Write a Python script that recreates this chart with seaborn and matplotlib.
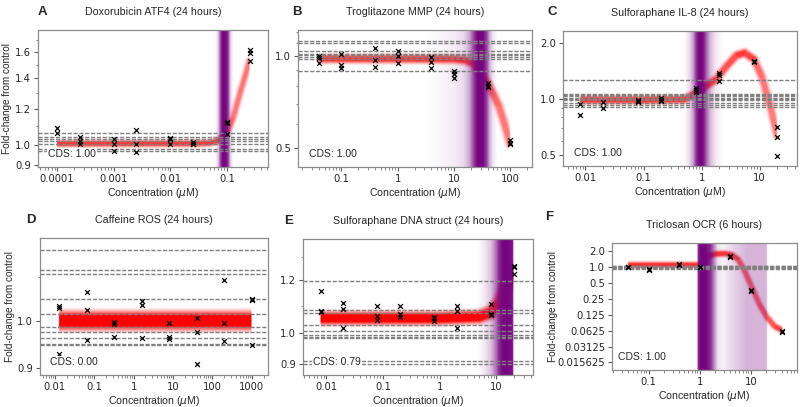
# Dose-response panels (A-F): replicates, fitted curve, control levels, POD density
import numpy as np
import pandas as pd
import matplotlib
matplotlib.use("Agg")
import matplotlib.pyplot as plt
import seaborn as sns
from matplotlib.ticker import LogLocator, NullFormatter

# --- A: Doxorubicin ATF4
a_conc = [0.0001, 0.00025, 0.001, 0.0025, 0.01, 0.025, 0.1, 0.25]
a_resp = [[1.089, 1.063, 0.944], [1.038, 1.019, 1.002], [1.026, 1.002, 0.968],
          [1.076, 1.005, 0.962], [1.035, 1.026, 1.002], [1.014, 1.005, 1.002],
          [1.123, 1.117, 1.054], [1.62, 1.594, 1.527]]
a_ctrl = [1.06, 1.04, 1.028, 1.017, 1.003, 0.976, 0.968]
a_fit_x = [0.0001, 0.001, 0.01, 0.03, 0.05, 0.07, 0.1, 0.13, 0.17, 0.21, 0.25]
a_fit_y = [1.005, 1.005, 1.005, 1.005, 1.008, 1.02, 1.06, 1.15, 1.3, 1.42, 1.53]
a_pod_x = [0.062, 0.07, 0.077, 0.083, 0.09, 0.1, 0.107, 0.115, 0.13]
a_pod_d = [0, 0.2, 0.75, 1, 1, 0.95, 0.7, 0.2, 0]
a_xticks = [0.0001, 0.001, 0.01, 0.1]
a_yticks = [0.9, 1.0, 1.2, 1.4, 1.6]
a_yminor = [1.1, 1.3, 1.5, 1.7]

# --- B: Troglitazone MMP
b_conc = [0.04, 0.1, 0.4, 1, 4, 10, 40, 100]
b_resp = [[1.0, 0.987, 0.951], [1.013, 0.937, 0.913], [1.06, 0.973, 0.923],
          [1.042, 1.0, 0.951], [0.99, 0.958, 0.913], [0.895, 0.873, 0.85],
          [0.817, 0.801, 0.793], [0.532, 0.521, 0.516]]
b_ctrl = [1.117, 1.10, 1.036, 1.02, 1.008, 0.995, 0.978, 0.895]
b_fit_x = [0.04, 1, 10, 16, 22, 28, 35, 41, 52, 64, 80, 100]
b_fit_y = [0.98, 0.98, 0.978, 0.97, 0.945, 0.895, 0.845, 0.81, 0.745, 0.685, 0.6, 0.52]
b_pod_x = [3, 6, 10, 15, 19, 22, 26, 33, 39, 43, 50, 60]
b_pod_d = [0, 0.04, 0.08, 0.15, 0.35, 0.7, 1, 1, 0.75, 0.35, 0.1, 0]
b_xticks = [0.1, 1, 10, 100]
b_yticks = [0.5, 1.0]
b_yminor = [0.6, 0.7, 0.8, 0.9, 1.1, 1.2]

# --- C: Sulforaphane IL-8
c_conc = [0.008, 0.02, 0.08, 0.2, 0.8, 2, 8, 20]
c_resp = [[0.944, 0.819], [0.964, 0.896], [0.99, 0.98, 0.97], [1.016, 0.992, 0.972],
          [1.153, 1.121, 1.089], [1.385, 1.347, 1.256], [1.598, 1.585], [0.71, 0.626, 0.498]]
c_ctrl = [1.267, 1.067, 1.05, 1.035, 1.02, 1.005, 0.99, 0.952, 0.93, 0.907]
c_fit_x = [0.008, 0.1, 0.5, 0.8, 1.2, 1.8, 2.7, 4, 5.5, 8, 11, 15, 20]
c_fit_y = [0.985, 0.985, 0.99, 1.07, 1.17, 1.27, 1.49, 1.7, 1.75, 1.62, 1.3, 0.93, 0.64]
c_pod_x = [0.5, 0.62, 0.72, 0.8, 0.9, 1.0, 1.1, 1.25, 1.45, 1.8, 2.4]
c_pod_d = [0, 0.15, 0.4, 0.8, 1, 1, 0.9, 0.55, 0.25, 0.08, 0]
c_xticks = [0.01, 0.1, 1, 10]
c_yticks = [0.5, 1.0, 2.0]
c_yminor = [0.6, 0.7, 0.8, 0.9]

# --- D: Caffeine ROS
d_conc = [0.0128, 0.064, 0.32, 1.6, 8, 40, 200, 1000]
d_resp = [[1.033, 1.028, 0.93], [1.065, 1.024, 0.959], [0.996, 0.992, 0.965],
          [1.045, 1.035, 0.963], [0.994, 0.964, 0.96], [1.005, 0.975, 0.908],
          [1.094, 0.994, 0.957], [1.048, 1.046, 0.948]]
d_ctrl = [1.169, 1.117, 1.109, 1.048, 1.015, 0.987, 0.975, 0.963, 0.95, 0.947]
d_fit_x = [0.0128, 1000]
d_fit_y = [1.0, 1.0]
d_pod_x = []
d_pod_d = []
d_xticks = [0.01, 0.1, 1, 10, 100, 1000]
d_yticks = [0.9, 1.0]
d_yminor = [1.1]

# --- E: Sulforaphane DNA struct
e_conc = [0.008, 0.02, 0.08, 0.2, 0.8, 2, 8, 20]
e_resp = [[1.155, 1.08, 1.077], [1.109, 1.086, 1.017], [1.099, 1.062, 1.047],
          [1.099, 1.069, 1.059], [1.056, 1.053, 1.044], [1.099, 1.08, 1.017],
          [1.106, 1.067, 1.064], [1.262, 1.256, 1.227]]
e_ctrl = [1.198, 1.084, 1.071, 1.027, 1.006, 0.994, 0.988, 0.982, 0.909, 0.899]
e_fit_x = [0.008, 1, 5, 8, 11, 14, 20]
e_fit_y = [1.053, 1.053, 1.058, 1.075, 1.11, 1.16, 1.237]
e_pod_x = [4.5, 6, 8, 10, 11, 13, 16, 19.5, 20]
e_pod_d = [0, 0.08, 0.25, 0.6, 0.85, 1, 1, 0.95, 0]
e_xticks = [0.01, 0.1, 1, 10]
e_yticks = [0.9, 1.0, 1.2]
e_yminor = [1.1, 1.3]

# --- F: Triclosan OCR
f_conc = [0.04, 0.1, 0.4, 1, 4, 10, 40]
f_resp = [[1.03, 1.0], [0.93, 0.9], [1.16, 1.12], [1.03, 1.0], [1.62, 1.56],
          [0.37, 0.36], [0.062, 0.06]]
f_ctrl = [0.94, 0.96, 0.98, 1.0, 1.02, 1.04, 1.07]
f_fit_x = [0.04, 0.5, 1.0, 1.2, 1.5, 2, 3, 4.2, 5.5, 7, 10, 14, 20, 28, 40]
f_fit_y = [1.07, 1.07, 1.07, 1.3, 1.6, 1.72, 1.75, 1.65, 1.35, 0.9, 0.42, 0.2, 0.11, 0.075, 0.062]
f_pod_x = [0.88, 0.9, 1.0, 1.3, 1.6, 1.9, 2.2, 2.8, 3.5, 5, 8, 19.5, 20.5]
f_pod_d = [0, 0.8, 1.0, 1.0, 0.85, 0.45, 0.12, 0.05, 0.12, 0.2, 0.3, 0.3, 0]
f_xticks = [0.1, 1, 10]
f_yticks = [2.0, 1.0, 0.5, 0.25, 0.125, 0.0625, 0.03125, 0.015625]
f_yminor = []

titles = ["Doxorubicin ATF4 (24 hours)", "Troglitazone MMP (24 hours)",
          "Sulforaphane IL-8 (24 hours)", "Caffeine ROS (24 hours)",
          "Sulforaphane DNA struct (24 hours)", "Triclosan OCR (6 hours)"]
letters = ["A", "B", "C", "D", "E", "F"]
cds = ["CDS: 1.00", "CDS: 1.00", "CDS: 1.00", "CDS: 0.00", "CDS: 0.79", "CDS: 1.00"]

sns.set_style("ticks")
plt.rcParams["font.family"] = ["Liberation Sans", "DejaVu Sans"]
plt.rcParams["mathtext.fontset"] = "dejavusans"

W, H = 800, 407
fig = plt.figure(figsize=(W / 100, H / 100), dpi=100)

RED = (1.0, 0.0, 0.0)
PURPLE = (0.46, 0.02, 0.5)


def px_rect(l, t, r, b):
    return [l / W, 1 - b / H, (r - l) / W, (b - t) / H]


def pixel_grid(ax, ss=2):
    bb = ax.get_window_extent()
    nx, ny = int(round(bb.width * ss)), int(round(bb.height * ss))
    xs = bb.x0 + (np.arange(nx) + 0.5) / ss
    ys = bb.y0 + (np.arange(ny) + 0.5) / ss
    return xs, ys


def put_image(ax, color, alpha, z):
    rgba = np.zeros(alpha.shape + (4,))
    rgba[..., :3] = color
    rgba[..., 3] = alpha
    ax.imshow(rgba, extent=(0, 1, 0, 1), transform=ax.transAxes, origin="lower",
              aspect="auto", interpolation="bilinear", zorder=z)


def fuzzy_curve(ax, fx, fy, core, halo, amax):
    # soft red band around the fitted curve (widths in pixels), paler where steep
    xs, ys = pixel_grid(ax)
    pts = ax.transData.transform(np.column_stack([fx, fy]))
    PX, PY = np.meshgrid(xs, ys)
    dist = np.full(PX.shape, np.inf)
    fac = np.ones(PX.shape)
    for (x0, y0), (x1, y1) in zip(pts[:-1], pts[1:]):
        dx, dy = x1 - x0, y1 - y0
        seg = np.hypot(dx, dy)
        t = np.clip(((PX - x0) * dx + (PY - y0) * dy) / (seg * seg), 0, 1)
        d = np.hypot(PX - (x0 + t * dx), PY - (y0 + t * dy))
        closer = d < dist
        dist = np.where(closer, d, dist)
        fac = np.where(closer, 0.55 + 0.45 * abs(dx) / seg, fac)
    a = np.clip((halo - dist) / (halo - core), 0, 1) ** 1.6 * amax * fac
    a[:, (xs < pts[0, 0]) | (xs > pts[-1, 0])] = 0
    put_image(ax, RED, a, 1)


def pod_band(ax, px, dens):
    if len(px) == 0:
        return
    xs, ys = pixel_grid(ax)
    inv = ax.transData.inverted()
    xd = inv.transform(np.column_stack([xs, np.full(len(xs), ys[0])]))[:, 0]
    a = np.interp(np.log10(xd), np.log10(px), dens, left=0, right=0)
    put_image(ax, PURPLE, np.tile(a, (4, 1)), 2)


panels = [
    dict(conc=a_conc, resp=a_resp, ctrl=a_ctrl, fx=a_fit_x, fy=a_fit_y, px=a_pod_x, pd=a_pod_d,
         xt=a_xticks, yt=a_yticks, ym=a_yminor, rect=px_rect(38, 30, 268, 167),
         xlim=(4.6e-5, 0.53), ylim=(0.892, 1.79), band=(1.5, 5.5, 0.8),
         ylab=-0.113, cx=0.045, lxy=(38, 15)),
    dict(conc=b_conc, resp=b_resp, ctrl=b_ctrl, fx=b_fit_x, fy=b_fit_y, px=b_pod_x, pd=b_pod_d,
         xt=b_xticks, yt=b_yticks, ym=b_yminor, rect=px_rect(298, 30, 532, 167),
         xlim=(0.0168, 247), ylim=(0.435, 1.217), band=(2, 7, 0.8),
         ylab=None, cx=0.045, lxy=(292, 15)),
    dict(conc=c_conc, resp=c_resp, ctrl=c_ctrl, fx=c_fit_x, fy=c_fit_y, px=c_pod_x, pd=c_pod_d,
         xt=c_xticks, yt=c_yticks, ym=c_yminor, rect=px_rect(563, 31, 797, 166),
         xlim=(0.0041, 44), ylim=(0.439, 2.316), band=(2, 6.5, 0.8),
         ylab=None, cx=0.045, lxy=(547, 15)),
    dict(conc=d_conc, resp=d_resp, ctrl=d_ctrl, fx=d_fit_x, fy=d_fit_y, px=d_pod_x, pd=d_pod_d,
         xt=d_xticks, yt=d_yticks, ym=d_yminor, rect=px_rect(40, 238, 268, 375),
         xlim=(0.0042, 2600), ylim=(0.887, 1.2), band=(5.5, 14, 1.0),
         ylab=-0.11, cx=0.045, lxy=(26, 223)),
    dict(conc=e_conc, resp=e_resp, ctrl=e_ctrl, fx=e_fit_x, fy=e_fit_y, px=e_pod_x, pd=e_pod_d,
         xt=e_xticks, yt=e_yticks, ym=e_yminor, rect=px_rect(303, 239, 533, 375),
         xlim=(0.0039, 44), ylim=(0.866, 1.383), band=(3.5, 10, 1.0),
         ylab=None, cx=0.045, lxy=(284, 224)),
    dict(conc=f_conc, resp=f_resp, ctrl=f_ctrl, fx=f_fit_x, fy=f_fit_y, px=f_pod_x, pd=f_pod_d,
         xt=f_xticks, yt=f_yticks, ym=f_yminor, rect=px_rect(612, 243, 797, 370),
         xlim=(0.0193, 80), ylim=(0.0112, 2.89), band=(1.5, 5, 0.8),
         ylab=-0.29, cx=0.03, lxy=(545, 220)),
]

for i, p in enumerate(panels):
    ax = fig.add_axes(p["rect"])
    ax.set_xscale("log")
    ax.set_yscale("log")
    ax.set_xlim(*p["xlim"])
    ax.set_ylim(*p["ylim"])

    fuzzy_curve(ax, p["fx"], p["fy"], *p["band"])
    pod_band(ax, p["px"], p["pd"])
    for v in p["ctrl"]:
        ax.axhline(v, color="0.5", lw=1.0, ls=(0, (3, 1.2)), zorder=3)

    df = pd.DataFrame({"conc": np.repeat(p["conc"], [len(r) for r in p["resp"]]),
                       "resp": np.concatenate(p["resp"])})
    sns.scatterplot(data=df, x="conc", y="resp", ax=ax, marker="x", color="black",
                    s=12, linewidth=0.9, zorder=4, legend=False)

    ax.set_xticks(p["xt"], labels=["%g" % v for v in p["xt"]], fontfamily="DejaVu Sans")
    ax.xaxis.set_minor_locator(LogLocator(base=10, subs=np.arange(2, 10), numticks=100))
    ax.xaxis.set_minor_formatter(NullFormatter())
    ax.set_yticks(p["yt"], labels=[str(v) for v in p["yt"]], fontfamily="DejaVu Sans")
    ax.set_yticks(p["ym"], minor=True)
    ax.yaxis.set_minor_formatter(NullFormatter())
    ax.set_xlim(*p["xlim"])
    ax.set_ylim(*p["ylim"])

    ax.tick_params(which="major", length=3, width=0.8, color="0.35", labelsize=7.2, pad=2)
    ax.tick_params(which="minor", length=1.8, width=0.6, color="0.45")
    for s in ax.spines.values():
        s.set_color("0.55")
        s.set_linewidth(0.9)

    ax.set_xlabel(r"Concentration ($\mu$M)", fontsize=7.6, labelpad=1.2)
    if p["ylab"] is not None:
        ax.set_ylabel("Fold-change from control", fontsize=7.2)
        ax.yaxis.set_label_coords(p["ylab"], 0.5)
    else:
        ax.set_ylabel("")
    ax.set_title(titles[i], fontsize=7.7, pad=10.5)
    ax.text(p["cx"], 0.075, cds[i], transform=ax.transAxes, fontsize=7.5, va="baseline",
            zorder=6, bbox=dict(facecolor="white", edgecolor="none", pad=0.8))
    lx, ly = p["lxy"]
    fig.text(lx / W, 1 - ly / H, letters[i], fontsize=9.5, fontweight="bold",
             va="baseline", ha="left")

fig.savefig("out.png", dpi=100)
